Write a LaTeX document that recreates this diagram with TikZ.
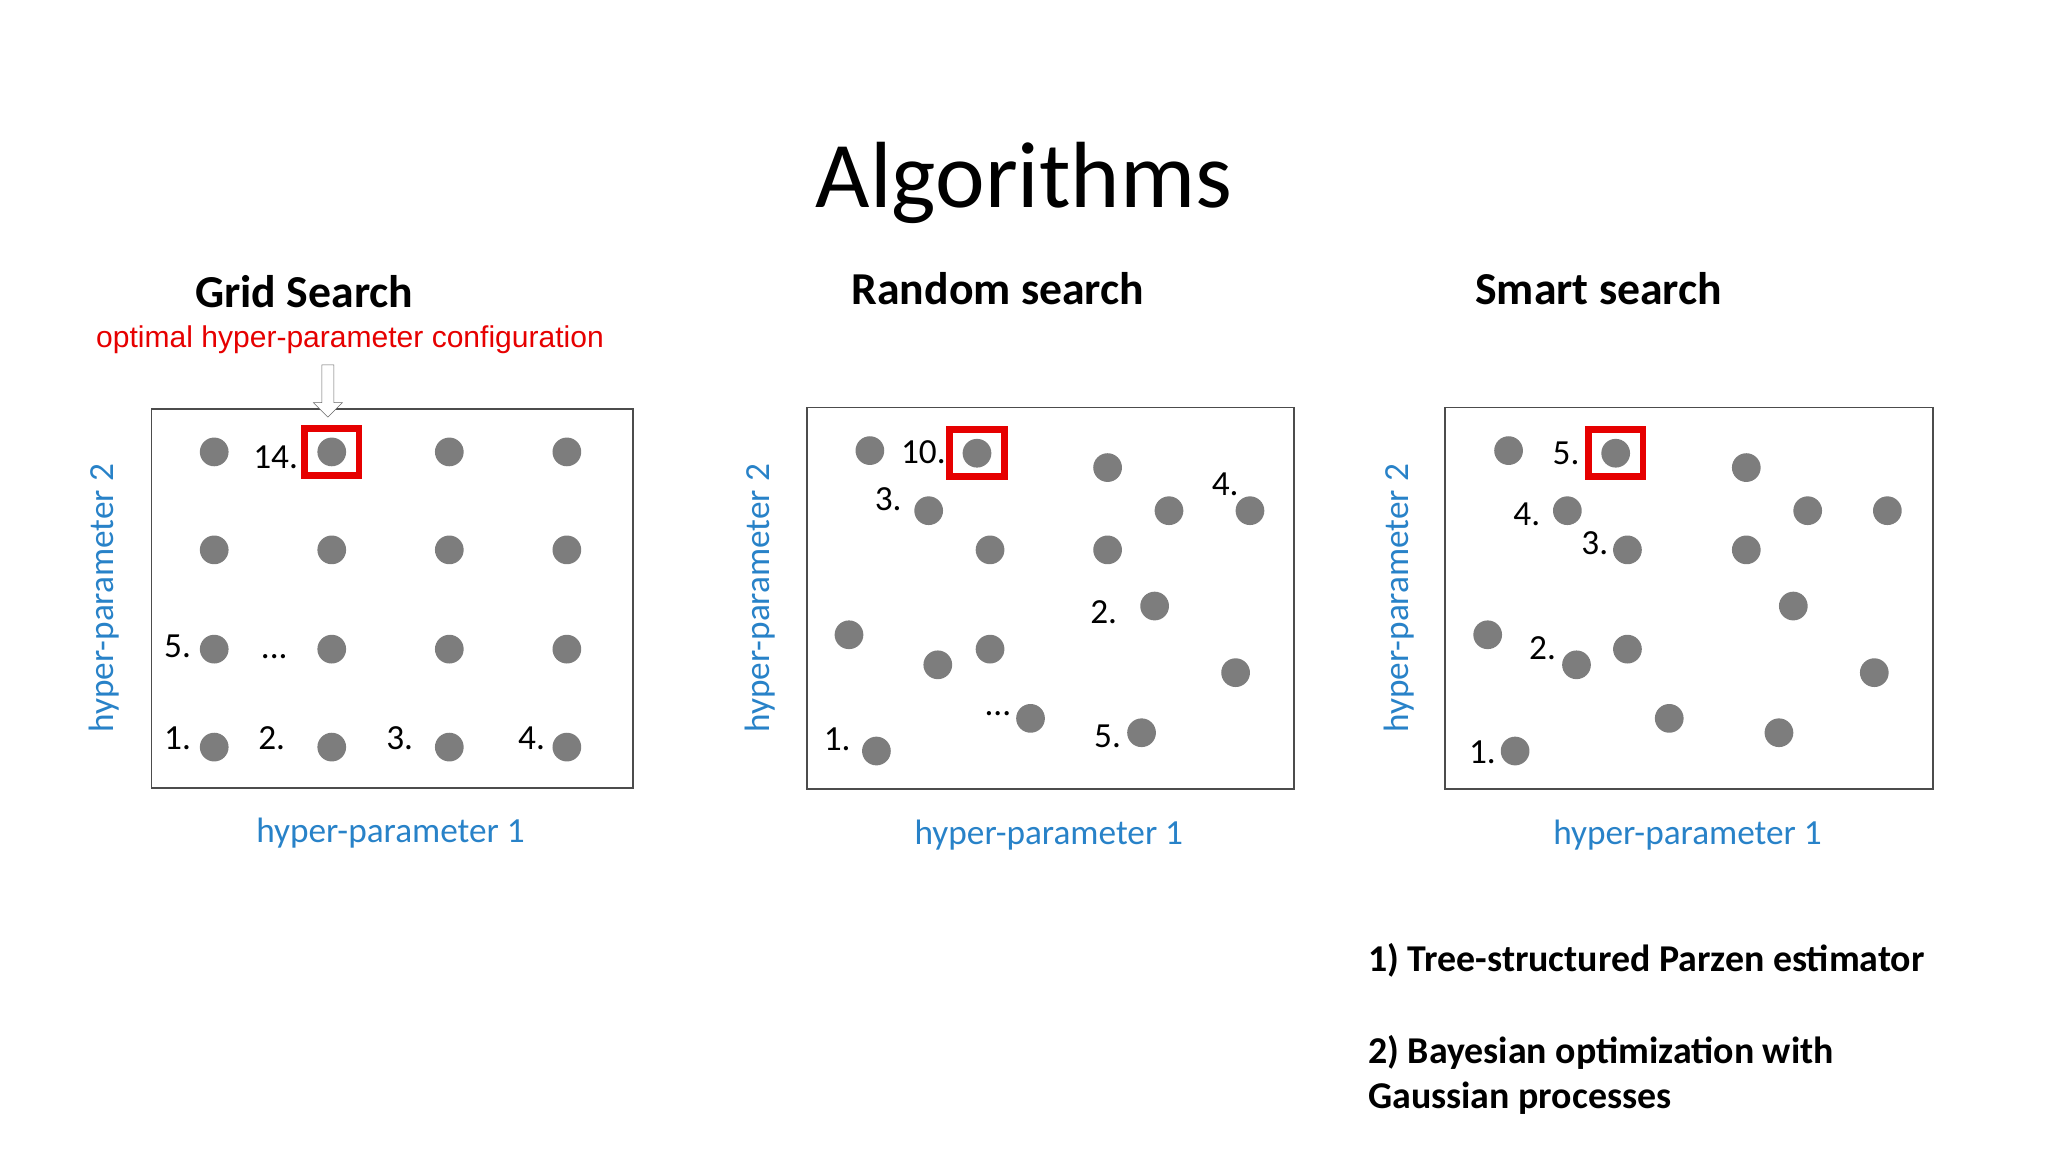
\documentclass[tikz,border=0pt]{standalone}
\usepackage{fontspec}
\setmainfont{Carlito}
\newfontfamily\arialf{Liberation Sans}
\usetikzlibrary{shapes.arrows}
\definecolor{dotg}{RGB}{125,125,125}
\definecolor{axblue}{RGB}{40,130,200}
\definecolor{optred}{RGB}{230,0,0}
\tikzset{
 dot/.style={circle,fill=dotg,inner sep=0pt,minimum size=22pt},
 panel/.style={draw=black!70,line width=1.5pt},
 lbl/.style={font=\fontsize{27}{30}\selectfont},
 axl/.style={text=axblue,font=\fontsize{27}{30}\selectfont},
 ttl/.style={font=\bfseries\fontsize{35}{38}\selectfont},
 best/.style={draw=optred,line width=5pt,minimum width=42pt,minimum height=36pt,inner sep=0pt},
 btxt/.style={font=\bfseries\fontsize{29}{32}\selectfont,anchor=west}
}
\begin{document}
\begin{tikzpicture}[x=1pt,y=-1pt]
\useasboundingbox (0,0) rectangle (1568,882);
\node (alg) at (784,140) {\fontsize{72}{76}\selectfont Algorithms};
% Grid
\node[ttl] (t1) at (233,223) {Grid Search};
\node[text=optred,font=\arialf\fontsize{23}{26}\selectfont] (opt) at (268,260) {optimal hyper-parameter configuration};
\draw[panel] (116,313) rectangle (485,603);
\foreach \x [count=\i] in {164,254,344,434}
 \foreach \y [count=\j] in {346,421,497,572}
  \node[dot] (g\i\j) at (\x,\y) {};
\node[best] (gb) at (254,346) {};
\node[single arrow,draw=black!60,fill=white,shape border rotate=270,minimum height=40pt,minimum width=22pt,single arrow head extend=3pt,inner sep=2pt] (arr) at (251,297) {};
\node[lbl] (gl14) at (211,350) {14.};
\node[lbl] (gl5) at (136,495) {5.};
\node[lbl] (gld) at (210,503) {...};
\node[lbl] (gl1) at (136,565) {1.};
\node[lbl] (gl2) at (208,565) {2.};
\node[lbl] (gl3) at (306,565) {3.};
\node[lbl] (gl4) at (407,565) {4.};
\node[axl,rotate=90] (gy) at (80,458) {hyper-parameter 2};
\node[axl] (gx) at (299,638) {hyper-parameter 1};
% Random
\node[ttl] (t2) at (764,221) {Random search};
\draw[panel] (618,312) rectangle (991,604);
\foreach \p [count=\i] in {(666,345),(748,347),(848,358),(711,391),(895,391),(957,391),(758,421),(848,421),(884,464),(650,486),(718,509),(758,497),(946,515),(789,550),(874,561),(671,575)}
  \node[dot] (r\i) at \p {};
\node[best] (rb) at (748,347) {};
\node[lbl] (rl10) at (707,346) {10.};
\node[lbl] (rl3) at (680,382) {3.};
\node[lbl] (rl4) at (938,371) {4.};
\node[lbl] (rl2) at (845,469) {2.};
\node[lbl] (rl1) at (641,566) {1.};
\node[lbl] (rld) at (764,546) {...};
\node[lbl] (rl5) at (848,564) {5.};
\node[axl,rotate=90] (ry) at (582,458) {hyper-parameter 2};
\node[axl] (rx) at (803,639) {hyper-parameter 1};
% Smart
\node[ttl] (t3) at (1224,221) {Smart search};
\draw[panel] (1106,312) rectangle (1480,604);
\foreach \p [count=\i] in {(1155,345),(1237,347),(1337,358),(1200,391),(1384,391),(1445,391),(1246,421),(1337,421),(1373,464),(1139,486),(1207,509),(1246,497),(1435,515),(1278,550),(1362,561),(1160,575)}
  \node[dot] (s\i) at \p {};
\node[best] (sb) at (1237,347) {};
\node[lbl] (sl5) at (1199,347) {5.};
\node[lbl] (sl4) at (1169,394) {4.};
\node[lbl] (sl3) at (1221,416) {3.};
\node[lbl] (sl2) at (1181,496) {2.};
\node[lbl] (sl1) at (1135,576) {1.};
\node[axl,rotate=90] (sy) at (1071,458) {hyper-parameter 2};
\node[axl] (sx) at (1292,639) {hyper-parameter 1};
\node[btxt] (b1) at (1044,735) {1) Tree-structured Parzen estimator};
\node[btxt] (b2) at (1044,806) {2) Bayesian optimization with};
\node[btxt] (b3) at (1044,841) {Gaussian processes};
\end{tikzpicture}
\end{document}
